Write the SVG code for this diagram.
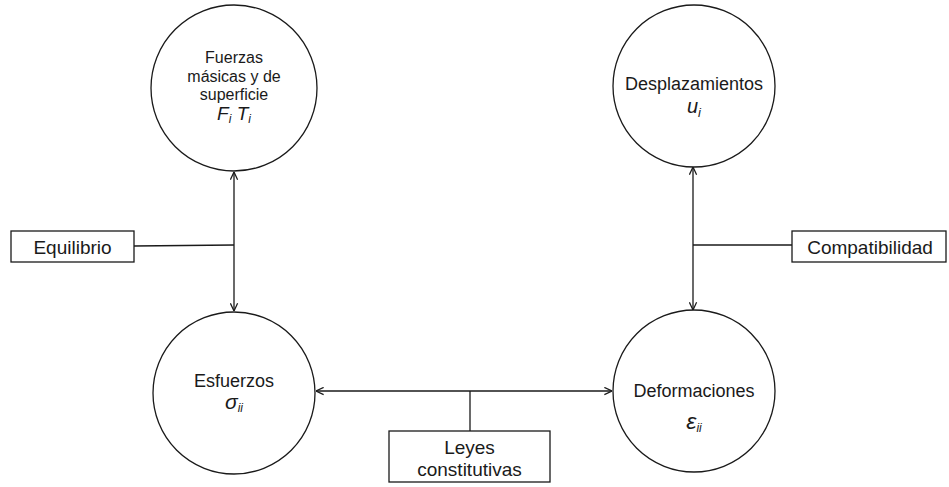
<svg xmlns="http://www.w3.org/2000/svg" width="949" height="487" viewBox="0 0 949 487">
<defs>
<marker id="arr" viewBox="0 0 10 10" refX="9.5" refY="5" markerWidth="9" markerHeight="9" markerUnits="userSpaceOnUse" orient="auto-start-reverse">
<path d="M1,1 L9.5,5 L1,9" fill="none" stroke="#1a1a1a" stroke-width="1.4"/>
</marker>
<style>
.node{fill:#fff;stroke:#1a1a1a;stroke-width:1.3}
.ln{fill:none;stroke:#1a1a1a;stroke-width:1.3}
.t{font-family:"Liberation Sans",Arial,sans-serif;fill:#1a1a1a;text-anchor:middle}
.m{font-style:italic}
</style>
</defs>
<rect width="949" height="487" fill="#fff"/>
<g id="connectors">
<line class="ln" x1="234" y1="172" x2="234" y2="311" marker-start="url(#arr)" marker-end="url(#arr)"/>
<line class="ln" x1="134" y1="246" x2="234" y2="245"/>
<line class="ln" x1="693" y1="167" x2="693" y2="310" marker-start="url(#arr)" marker-end="url(#arr)"/>
<line class="ln" x1="693" y1="245" x2="792" y2="245"/>
<line class="ln" x1="316" y1="391" x2="612" y2="391" marker-start="url(#arr)" marker-end="url(#arr)"/>
<line class="ln" x1="470" y1="391" x2="470" y2="431"/>
</g>
<g id="fuerzas">
<circle class="node" cx="234" cy="88" r="83"/>
<text class="t" font-size="16" x="234" y="63">Fuerzas</text>
<text class="t" font-size="16" x="234" y="82">másicas y de</text>
<text class="t" font-size="16" x="234" y="100">superficie</text>
<text class="t m" font-size="19" x="234" y="120">F<tspan font-size="12" dy="3">i</tspan><tspan dy="-3"> T</tspan><tspan font-size="12" dy="3">i</tspan></text>
</g>
<g id="desplazamientos">
<circle class="node" cx="694" cy="86" r="81"/>
<text class="t" font-size="18" x="694" y="90">Desplazamientos</text>
<text class="t m" font-size="20" x="694" y="113">u<tspan font-size="13" dy="4">i</tspan></text>
</g>
<g id="esfuerzos">
<circle class="node" cx="234" cy="393" r="81"/>
<text class="t" font-size="18" x="234" y="387">Esfuerzos</text>
<text class="t m" font-size="21" x="234" y="409">σ<tspan font-size="12" dy="3">ii</tspan></text>
</g>
<g id="deformaciones">
<circle class="node" cx="694" cy="391" r="81"/>
<text class="t" font-size="18" x="694" y="397">Deformaciones</text>
<text class="t m" font-size="23" x="694" y="429">ε<tspan font-size="12" dy="3">ii</tspan></text>
</g>
<g id="equilibrio">
<rect class="node" x="11" y="231" width="123" height="31"/>
<text class="t" font-size="19" x="72.5" y="254">Equilibrio</text>
</g>
<g id="compatibilidad">
<rect class="node" x="792" y="231" width="154" height="31"/>
<text class="t" font-size="19" x="870" y="254">Compatibilidad</text>
</g>
<g id="leyes">
<rect class="node" x="389" y="431" width="161" height="51"/>
<text class="t" font-size="19" x="469.5" y="454">Leyes</text>
<text class="t" font-size="19" x="469.5" y="476">constitutivas</text>
</g>
</svg>
